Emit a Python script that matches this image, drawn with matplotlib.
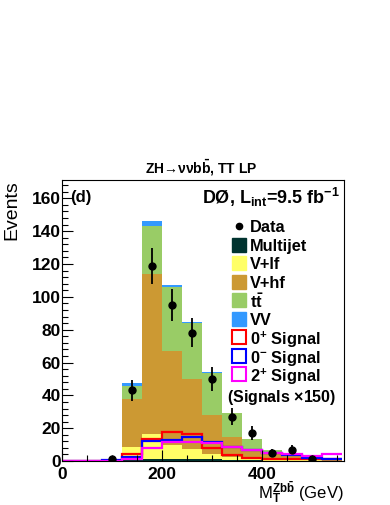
import numpy as np
import matplotlib
matplotlib.use("Agg")
import matplotlib.pyplot as plt
from matplotlib.patches import Rectangle
from matplotlib.ticker import MultipleLocator

plt.rcParams['font.family'] = ['Liberation Sans', 'DejaVu Sans']
plt.rcParams['font.weight'] = 'bold'
plt.rcParams['mathtext.fontset'] = 'custom'
plt.rcParams['mathtext.rm'] = 'Liberation Sans:bold'
plt.rcParams['mathtext.bf'] = 'Liberation Sans:bold'
plt.rcParams['mathtext.it'] = 'Liberation Sans:bold'
plt.rcParams['mathtext.default'] = 'bf'

# bin edges in GeV (40 GeV bins)
edges = np.arange(0, 600, 40)

# background components per bin (not cumulative)
multijet = [0, 0, 0.1, 0.6, 1.5, 1.5, 1.2, 1.0, 0.6, 0.4, 0.3, 0.2, 0.1, 0.1]
v_lf = [0, 0, 0.2, 7.9, 14.8, 8.0, 6.3, 3.0, 1.9, 1.2, 0.7, 0.4, 0.3, 0.2]
v_hf = [0, 0, 0.3, 29.5, 97.7, 57.5, 42.5, 24.0, 12.1, 4.9, 4.0, 2.9, 1.4, 0.5]
ttbar = [0, 0, 0.2, 8.0, 29.0, 39.0, 33.8, 25.5, 14.4, 6.8, 1.5, 1.3, 0.4, 0.2]
vv = [0, 0, 0.1, 1.5, 3.5, 1.5, 0.7, 0.5, 0.5, 0.4, 0.5, 0.3, 0.3, 0.1]

# signals (x150)
sig_0p = [0, 0, 0.3, 4.3, 13.4, 17.7, 16.7, 7.8, 3.5, 2.0, 1.5, 1.4, 1.1, 1.1]
sig_0m = [0, 0, 0.5, 2.7, 12.4, 12.8, 14.8, 11.6, 8.5, 6.5, 4.7, 3.6, 1.6, 1.0]
sig_2p = [0, 0, 0.2, 1.5, 8.0, 11.6, 11.6, 11.2, 8.5, 6.5, 5.2, 4.1, 2.8, 4.5]

# data
data_x = [100, 140, 180, 220, 260, 300, 340, 380, 420, 460, 500]
data_y = [1, 43, 119, 95, 78, 50, 27, 17, 5, 7, 1]

bkg = [multijet, v_lf, v_hf, ttbar, vv]
bkg_colors = ['#00332f', '#ffff66', '#cc9933', '#99cc66', '#3399ff']
bkg_labels = ['Multijet', 'V+lf', 'V+hf', r't$\bar{t}$', 'VV']
sig_colors = ['#ff0000', '#0000ff', '#ff00ff']
sig_labels = [r'0$^{+}$ Signal', r'0$^{-}$ Signal', r'2$^{+}$ Signal']

fig = plt.figure(figsize=(3.9, 5.05), dpi=100)
ax = fig.add_axes([0.159, 0.087, 0.723, 0.556])

bottom = np.zeros(len(edges) - 1)
for vals, col in zip(bkg, bkg_colors):
    ax.bar(edges[:-1], vals, width=40, bottom=bottom, align='edge',
           color=col, edgecolor=col, linewidth=0)
    bottom += np.array(vals)

for vals, col in zip([sig_0p, sig_0m, sig_2p], sig_colors):
    ax.stairs(vals, edges, color=col, linewidth=1.6, baseline=None)

ax.errorbar(data_x, data_y, yerr=np.sqrt(data_y), fmt='o', color='black',
            markersize=5, elinewidth=1.3, capsize=0)

ax.set_xlim(0, 564)
ax.set_ylim(0, 171)
ax.xaxis.set_major_locator(MultipleLocator(200))
ax.xaxis.set_minor_locator(MultipleLocator(50))
ax.yaxis.set_major_locator(MultipleLocator(20))
ax.yaxis.set_minor_locator(MultipleLocator(4))
ax.tick_params(which='both', direction='in', top=False, right=False, labelsize=12.5)
ax.tick_params(which='major', length=8, width=0.8, pad=1)
ax.tick_params(which='minor', length=4, width=0.8)
ax.tick_params(axis='x', pad=4)
for s in ax.spines.values():
    s.set_linewidth(0.8)

ax.set_ylabel('Events', fontsize=14, loc='top')
ax.yaxis.set_label_coords(-0.147, 1.0)
ax.set_xlabel(r'M$_{T}^{Zb\bar{b}}$ (GeV)', fontsize=12, loc='right')
ax.xaxis.set_label_coords(1.0, -0.068)

fig.text(0.515, 0.668, 'ZH→νν' + r'b$\bar{b}$, TT LP', ha='center',
         va='center', fontsize=10)
ax.text(0.03, 0.94, '(d)', transform=ax.transAxes, fontsize=12, va='center')
ax.text(0.985, 0.94, r'DØ, L$_{int}$=9.5 fb$^{-1}$', transform=ax.transAxes,
        fontsize=13, va='center', ha='right')

# legend drawn by hand, ROOT style
box_x, box_w, box_h = 0.603, 0.05, 0.05
text_x = 0.665
row0, step = 0.8363, 0.0658
labels = ['Data'] + bkg_labels + sig_labels
for i, lab in enumerate(labels):
    yc = row0 - i * step
    if i == 0:
        ax.plot([box_x + box_w / 2], [yc], 'o', color='black', markersize=4.5,
                transform=ax.transAxes)
    elif i <= len(bkg_colors):
        col = bkg_colors[i - 1]
        ax.add_patch(Rectangle((box_x, yc - box_h / 2), box_w, box_h,
                               facecolor=col, edgecolor=col, transform=ax.transAxes))
    else:
        col = sig_colors[i - 1 - len(bkg_colors)]
        ax.add_patch(Rectangle((box_x, yc - box_h / 2), box_w, box_h,
                               facecolor='white', edgecolor=col, linewidth=1.5,
                               transform=ax.transAxes))
    ax.text(text_x, yc, lab, transform=ax.transAxes, fontsize=11.8,
            va='center_baseline')

ax.text(0.585, 0.228, r'(Signals $\times$150)', transform=ax.transAxes,
        fontsize=11.5, va='center')

fig.savefig('out.png', dpi=100)
